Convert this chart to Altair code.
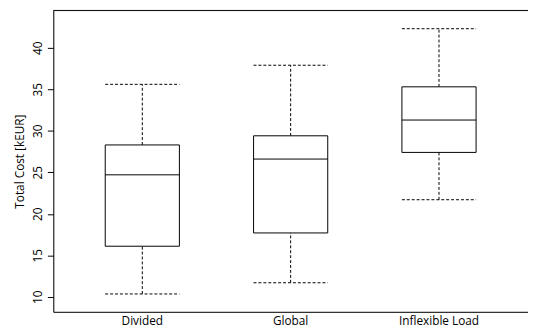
import altair as alt
import pandas as pd

categories = ["Divided", "Global", "Inflexible Load"]
lower = [10.35, 11.7, 21.7]
q1 = [16.1, 17.7, 27.4]
median = [24.7, 26.6, 31.3]
q3 = [28.3, 29.4, 35.3]
upper = [35.6, 37.9, 42.3]

df = pd.DataFrame({"cat": categories, "lower": lower, "q1": q1,
                   "median": median, "q3": q3, "upper": upper})

FONT = "Open Sans"
W, H = 482, 306
BOXW = 75.4
DASH = [3, 2]

xs = alt.Scale(domain=categories, paddingInner=0.5, paddingOuter=0.35)
ys = alt.Scale(domain=[8.2, 44.5], nice=False, zero=False)

x = alt.X("cat:N", scale=xs, sort=categories,
          axis=alt.Axis(title=None, ticks=False, labelAngle=0, labelFontSize=12,
                        labelFont=FONT, labelColor="black", labelPadding=4,
                        domainColor="black", domainWidth=1))
yaxis = alt.Axis(title="Total Cost [kEUR]", values=[10, 15, 20, 25, 30, 35, 40],
                 grid=False, labelAngle=-90, labelFontSize=12, labelFont=FONT,
                 labelColor="black", tickColor="black", tickSize=6, labelPadding=3,
                 domainColor="black", titleFont=FONT, titleFontSize=12,
                 titleFontWeight="normal", titleColor="black", titlePadding=5)

base = alt.Chart(df)

whisk_up = base.mark_rule(color="black", strokeDash=DASH, strokeWidth=1).encode(
    x=x, y=alt.Y("q3:Q", scale=ys, axis=yaxis), y2="upper:Q")
whisk_lo = base.mark_rule(color="black", strokeDash=DASH, strokeWidth=1).encode(
    x=x, y=alt.Y("lower:Q", scale=ys), y2="q1:Q")
cap_up = base.mark_rule(color="black", strokeDash=DASH, strokeWidth=1,
                        xOffset=-BOXW / 2, x2Offset=BOXW / 2).encode(
    x=x, x2="cat:N", y=alt.Y("upper:Q", scale=ys))
cap_lo = base.mark_rule(color="black", strokeDash=DASH, strokeWidth=1,
                        xOffset=-BOXW / 2, x2Offset=BOXW / 2).encode(
    x=x, x2="cat:N", y=alt.Y("lower:Q", scale=ys))
box = base.mark_bar(fill="white", stroke="black", strokeWidth=1,
                    width=alt.RelativeBandSize(1)).encode(
    x=x, y=alt.Y("q1:Q", scale=ys), y2="q3:Q")
med = base.mark_rule(color="black", strokeWidth=1,
                     xOffset=-BOXW / 2, x2Offset=BOXW / 2).encode(
    x=x, x2="cat:N", y=alt.Y("median:Q", scale=ys))

top = alt.Chart(alt.Data(values=[{"a": 1}])).mark_rule(color="black", strokeWidth=1).encode(
    x=alt.value(0), x2=alt.value(W), y=alt.value(0))

chart = alt.layer(whisk_up, whisk_lo, cap_up, cap_lo, box, med, top).properties(
    width=W, height=H,
    autosize=alt.AutoSizeParams(type="none"),
    padding={"left": 46, "top": 0, "right": 0, "bottom": 17},
).configure_view(stroke=None).configure(background="white")

chart.save("out.html", embed_options={"renderer": "svg", "actions": False})
